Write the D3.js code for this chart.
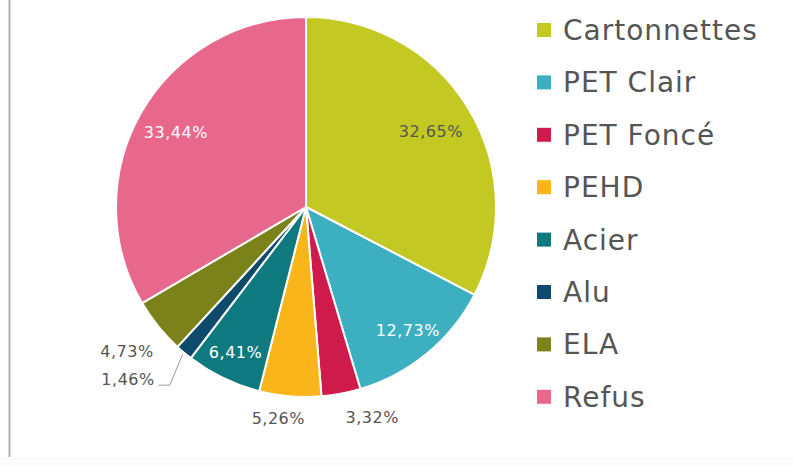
<!DOCTYPE html>
<meta charset="utf-8">
<script src="https://d3js.org/d3.v7.min.js"></script>
<style>
  body { margin: 0; background: #fff; }
  text { font-family: "DejaVu Sans", sans-serif; }
</style>
<body>
<div id="chart"></div>
<script>

var categories = ["Cartonnettes", "PET Clair", "PET Foncé", "PEHD", "Acier", "Alu", "ELA", "Refus"];
var shares = [32.65, 12.73, 3.32, 5.26, 6.41, 1.46, 4.73, 33.44];
var colors = ["#c3c822", "#3cafc0", "#cf1b4b", "#f9b51a", "#0e7a80", "#0e4a6b", "#7b8219", "#e8688b"];
var labelColors = ["#555", "#fff", "#555", "#555", "#fff", "#555", "#555", "#fff"];

var width = 793, height = 466;
var cx = 306, cy = 207, radius = 190;

var svg = d3.select("#chart")
  .append("svg")
    .attr("width", width)
    .attr("height", height);

// frame
svg.append("rect").attr("x", 0).attr("y", 457).attr("width", width).attr("height", 9).attr("fill", "#fcfcfc");
svg.append("line")
  .attr("x1", 9.5).attr("x2", 9.5).attr("y1", 0).attr("y2", 457)
  .attr("stroke", "#b0b0b0").attr("stroke-width", 2);

var data = categories.map(function(c, i) { return { name: c, value: shares[i], i: i }; });

var pie = d3.pie().sort(null).value(function(d) { return d.value; });
var arcs = pie(data);
var arc = d3.arc().innerRadius(0).outerRadius(radius);

var g = svg.append("g").attr("transform", "translate(" + cx + "," + cy + ")");

g.selectAll("path")
  .data(arcs)
  .enter()
  .append("path")
    .attr("d", arc)
    .attr("fill", function(d) { return colors[d.data.i]; })
    .attr("stroke", "#fff")
    .attr("stroke-width", 2)
    .attr("stroke-linejoin", "round");

function fmt(v) { return v.toFixed(2).replace(".", ",") + "%"; }

// label placement: radius along the slice middle, anchor, nudge
var place = {
  0: { r: 146, anchor: "middle", dx: 0 },
  1: { r: 160, anchor: "middle", dx: 0 },
  2: { r: 214, anchor: "start", dx: 0 },
  3: { r: 212, anchor: "middle", dx: -10 },
  4: { r: 162, anchor: "middle", dx: 0 },
  6: { r: 230, anchor: "middle", dx: 0 },
  7: { r: 150, anchor: "middle", dx: 0 }
};

arcs.forEach(function(d) {
  var i = d.data.i;
  var a = (d.startAngle + d.endAngle) / 2;
  if (i === 5) {
    // leader line for the thin Alu slice
    var p0 = [Math.sin(a) * (radius + 2), -Math.cos(a) * (radius + 2)];
    var p1 = [p0[0] - 13, p0[1] + 31];
    var p2 = [p1[0] - 11, p1[1]];
    g.append("polyline")
      .attr("points", [p0, p1, p2].map(function(p) { return p.join(","); }).join(" "))
      .attr("fill", "none").attr("stroke", "#999").attr("stroke-width", 1);
    g.append("text")
      .attr("x", p2[0] - 4).attr("y", p2[1])
      .attr("text-anchor", "end")
      .attr("font-size", 16)
      .attr("letter-spacing", 0.5)
      .attr("fill", labelColors[i])
      .text(fmt(d.data.value));
    return;
  }
  var p = place[i];
  g.append("text")
    .attr("x", Math.sin(a) * p.r + p.dx)
    .attr("y", -Math.cos(a) * p.r)
    .attr("dy", "0.35em")
    .attr("text-anchor", p.anchor)
    .attr("font-size", 16)
    .attr("letter-spacing", 0.5)
    .attr("fill", labelColors[i])
    .text(fmt(d.data.value));
});

// legend
var legend = svg.append("g").attr("transform", "translate(537,30)");
var item = legend.selectAll("g")
  .data(categories)
  .enter()
  .append("g")
    .attr("transform", function(d, i) { return "translate(0," + (i * 52.4) + ")"; });
item.append("rect")
  .attr("x", 0).attr("y", -7)
  .attr("width", 14).attr("height", 14)
  .attr("fill", function(d, i) { return colors[i]; });
item.append("text")
  .attr("x", 26).attr("dy", "0.36em")
  .attr("font-size", 28)
  .attr("letter-spacing", 1)
  .attr("fill", "#555")
  .text(function(d) { return d; });

</script>
</body>
